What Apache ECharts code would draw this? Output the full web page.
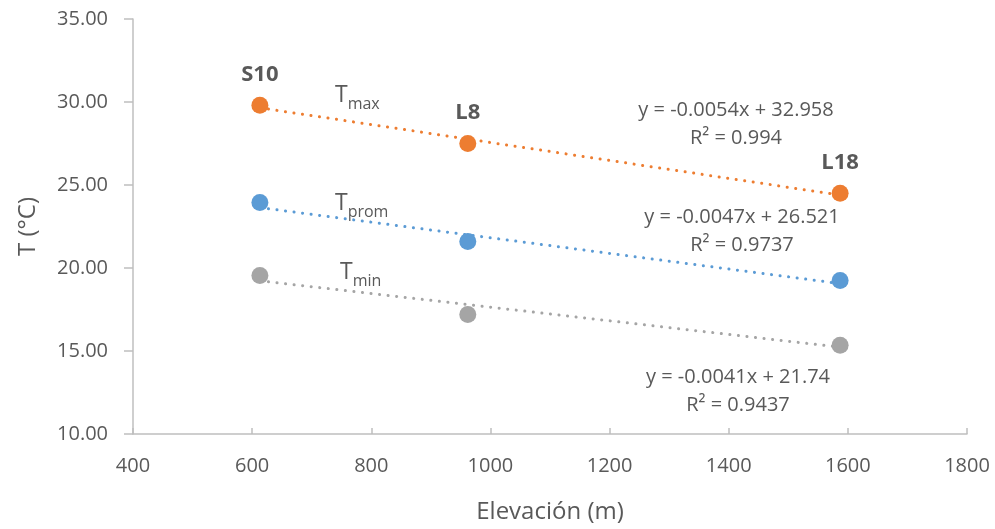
<!DOCTYPE html>
<html>
<head>
<meta charset="utf-8">
<script src="https://cdn.jsdelivr.net/npm/echarts@6/dist/echarts.min.js"></script>
<style>
    html, body { margin: 0; padding: 0; background: #fff; }
    #chart { width: 995px; height: 529px; }
</style>
</head>
<body>
<div id="chart"></div>
<script>
// elevaciones de las estaciones
var stations = ['S10', 'L8', 'L18']
var elevation = [613, 962, 1587]
var tMax = [29.8, 27.5, 24.5]
var tProm = [23.95, 21.6, 19.25]
var tMin = [19.55, 17.2, 15.35]
// extremos de las lineas de tendencia
var trendX = [613, 1587]
var trendMax = [29.65, 24.39]
var trendProm = [23.64, 19.06]
var trendMin = [19.23, 15.23]
var xTicks = [400, 1800, 200]
var yTicks = [10, 35, 5]

var font = '"Open Sans", "Noto Sans", sans-serif'
var grey = '#595959'
var colors = { max: '#ED7D31', prom: '#5B9BD5', min: '#A5A5A5' }

function pts (xs, ys) {
    return xs.map(function (x, i) { return [x, ys[i]] })
}

function scatter (name, ys, color, withLabel) {
    return {
        name: name,
        type: 'scatter',
        symbolSize: 17,
        z: 3,
        itemStyle: { color: color, opacity: 1 },
        label: {
            show: !!withLabel,
            position: 'top',
            distance: 11,
            color: grey,
            fontWeight: 'bold',
            fontSize: 22,
            fontFamily: font,
            formatter: function (p) { return stations[p.dataIndex] }
        },
        data: pts(elevation, ys)
    }
}

function trend (ys, color) {
    return {
        type: 'line',
        symbol: 'none',
        z: 2,
        silent: true,
        lineStyle: { color: color, width: 3, type: [0.1, 8.5], cap: 'round' },
        data: pts(trendX, ys)
    }
}

function eqText (x, y, lines) {
    return {
        type: 'text',
        x: x,
        y: y,
        style: {
            text: lines.join('\n'),
            fill: grey,
            font: '20px ' + font,
            align: 'center',
            verticalAlign: 'middle',
            lineHeight: 28
        }
    }
}

function subText (x, y, sub) {
    return {
        type: 'text',
        left: x,
        top: y,
        style: {
            text: '{a|T}{b|' + sub + '}',
            rich: {
                a: { fill: grey, fontSize: 23, fontFamily: font, verticalAlign: 'bottom' },
                b: { fill: grey, fontSize: 16, fontFamily: font, verticalAlign: 'bottom', padding: [0, 0, -5, 0] }
            }
        }
    }
}

var chart = echarts.init(document.getElementById('chart'))
chart.setOption({
    animation: false,
    grid: { left: 133, right: 28, top: 19, bottom: 94 },
    xAxis: {
        type: 'value',
        min: xTicks[0],
        max: xTicks[1],
        interval: xTicks[2],
        name: 'Elevación (m)',
        nameLocation: 'middle',
        nameGap: 66,
        nameTextStyle: { color: grey, fontSize: 24, fontFamily: font },
        axisLine: { lineStyle: { color: '#BFBFBF', width: 1.5 } },
        axisTick: { inside: true, length: 6, lineStyle: { color: '#BFBFBF', width: 1.5 } },
        axisLabel: {
            color: grey,
            fontSize: 20,
            fontFamily: font,
            margin: 22,
            formatter: function (v) { return String(v) }
        },
        splitLine: { show: false }
    },
    yAxis: {
        type: 'value',
        min: yTicks[0],
        max: yTicks[1],
        interval: yTicks[2],
        name: 'T (°C)',
        nameLocation: 'middle',
        nameGap: 93,
        nameTextStyle: { color: grey, fontSize: 24, fontFamily: font },
        axisLine: { show: true, lineStyle: { color: '#BFBFBF', width: 1.5 } },
        axisTick: { show: true, length: 9, lineStyle: { color: '#BFBFBF', width: 1.5 } },
        axisLabel: {
            color: grey,
            fontSize: 20,
            fontFamily: font,
            margin: 25,
            formatter: function (v) { return v.toFixed(2) }
        },
        splitLine: { show: false }
    },
    series: [
        trend(trendMax, colors.max),
        trend(trendProm, colors.prom),
        trend(trendMin, colors.min),
        scatter('Tmax', tMax, colors.max, true),
        scatter('Tprom', tProm, colors.prom, false),
        scatter('Tmin', tMin, colors.min, false)
    ],
    graphic: [
        subText(335, 84, 'max'),
        subText(335, 192, 'prom'),
        subText(340, 261, 'min'),
        eqText(736, 124, ['y = -0.0054x + 32.958', 'R² = 0.994']),
        eqText(742, 231, ['y = -0.0047x + 26.521', 'R² = 0.9737']),
        eqText(738, 391, ['y = -0.0041x + 21.74', 'R² = 0.9437'])
    ]
})
</script>
</body>
</html>
